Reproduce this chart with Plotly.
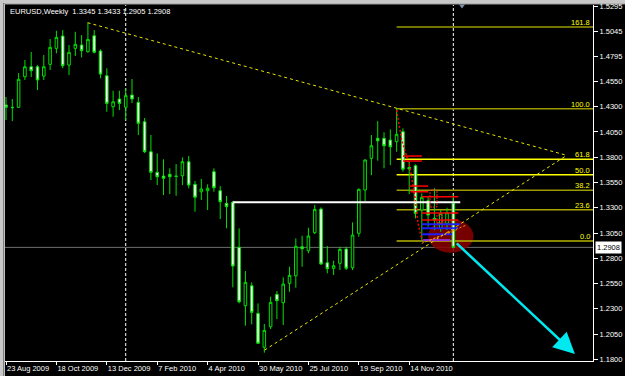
import plotly.graph_objects as go
import pandas as pd

# ---------------- data ----------------
week_start = "2009-08-23"
opens = [1.4316, 1.4293, 1.4293, 1.4595, 1.4694, 1.4694, 1.4602, 1.4718, 1.4876, 1.4998,
         1.4711, 1.4876, 1.4909, 1.4843, 1.5001, 1.4850, 1.4605, 1.4299, 1.4375, 1.4293,
         1.4414, 1.4342, 1.4150, 1.3854, 1.3650, 1.3613, 1.3630, 1.3613, 1.3616, 1.3755,
         1.3531, 1.3458, 1.3468, 1.3656, 1.3468, 1.3343, 1.3353, 1.2908, 1.2331, 1.2528,
         1.2255, 1.1919, 1.2123, 1.2443, 1.2360, 1.2552, 1.2627, 1.2914, 1.2875, 1.3053,
         1.3287, 1.2756, 1.2700, 1.2750, 1.2891, 1.2706, 1.3047, 1.3475, 1.3788, 1.3986,
         1.3986, 1.3969, 1.3953, 1.4052, 1.3699, 1.3715, 1.3277, 1.3369, 1.3195, 1.3096,
         1.3145, 1.3345]
highs = [1.4395, 1.4375, 1.4632, 1.4761, 1.4840, 1.4711, 1.4810, 1.4968, 1.5050, 1.5057,
         1.4909, 1.5040, 1.5008, 1.5130, 1.5057, 1.4866, 1.4679, 1.4457, 1.4457, 1.4481,
         1.4573, 1.4395, 1.4187, 1.4019, 1.3838, 1.3779, 1.3690, 1.3732, 1.3798, 1.3811,
         1.3564, 1.3584, 1.3531, 1.3690, 1.3514, 1.3416, 1.3366, 1.3096, 1.2674, 1.2562,
         1.2354, 1.2150, 1.2420, 1.2476, 1.2611, 1.2716, 1.2997, 1.3023, 1.3102, 1.3327,
         1.3304, 1.2921, 1.2776, 1.2914, 1.2914, 1.3155, 1.3490, 1.3780, 1.4019, 1.4157,
         1.4046, 1.4075, 1.4280, 1.4085, 1.3755, 1.3729, 1.3442, 1.3409, 1.3492, 1.3277,
         1.3300, 1.3433]
lows = [1.4167, 1.4157, 1.4286, 1.4563, 1.4592, 1.4464, 1.4563, 1.4662, 1.4827, 1.4679,
        1.4612, 1.4800, 1.4787, 1.4833, 1.4827, 1.4580, 1.4249, 1.4200, 1.4266, 1.4167,
        1.4335, 1.4019, 1.3840, 1.3574, 1.3524, 1.3425, 1.3435, 1.3418, 1.3524, 1.3492,
        1.3260, 1.3376, 1.3277, 1.3458, 1.3188, 1.3096, 1.2513, 1.2354, 1.2133, 1.2147,
        1.1952, 1.1866, 1.2100, 1.2199, 1.2140, 1.2469, 1.2509, 1.2716, 1.2849, 1.3040,
        1.2733, 1.2651, 1.2634, 1.2684, 1.2684, 1.2684, 1.3013, 1.3366, 1.3623, 1.3765,
        1.3690, 1.3722, 1.3854, 1.3656, 1.3435, 1.3195, 1.2972, 1.3112, 1.3079, 1.3063,
        1.3080, 1.2905]
closes = [1.4293, 1.4290, 1.4570, 1.4694, 1.4655, 1.4563, 1.4694, 1.4886, 1.4985, 1.4704,
          1.4837, 1.4916, 1.4853, 1.4965, 1.4837, 1.4622, 1.4332, 1.4348, 1.4332, 1.4408,
          1.4375, 1.4135, 1.3854, 1.3650, 1.3606, 1.3591, 1.3606, 1.3610, 1.3755, 1.3524,
          1.3403, 1.3485, 1.3492, 1.3498, 1.3359, 1.3310, 1.2723, 1.2370, 1.2562, 1.2265,
          1.1959, 1.2087, 1.2364, 1.2380, 1.2545, 1.2631, 1.2918, 1.2894, 1.3020, 1.3284,
          1.2743, 1.2697, 1.2726, 1.2888, 1.2701, 1.3030, 1.3482, 1.3772, 1.3913, 1.3962,
          1.3913, 1.3903, 1.4026, 1.3680, 1.3683, 1.3244, 1.3403, 1.3228, 1.3178, 1.3244,
          1.3250, 1.2908]

date_tick_idx = [0, 8, 16, 24, 32, 40, 48, 56, 64]
date_tick_labels = ["23 Aug 2009", "18 Oct 2009", "13 Dec 2009", "7 Feb 2010", "4 Apr 2010",
                    "30 May 2010", "25 Jul 2010", "19 Sep 2010", "14 Nov 2010"]
price_ticks = [1.5295, 1.5045, 1.4795, 1.4550, 1.4300, 1.4050, 1.3800, 1.3550,
               1.3300, 1.3050, 1.2800, 1.2550, 1.2300, 1.2050, 1.1800]
price_tick_labels = ["%.4f" % p for p in price_ticks]

title_text = "EURUSD,Weekly  1.3345 1.3433 1.2905 1.2908"
bid_price = 1.2908
separator_idx = [19, 71]

fib_high, fib_low, fib_start_idx = 1.4280, 1.2972, 62
fib_levels = [161.8, 100.0, 61.8, 50.0, 38.2, 23.6, 0.0]
fib_colors = ["#9A9A00", "#9A9A00", "#FFFF00", "#FFFF00", "#9A9A00", "#A8A800", "#B4B400"]

upper_trend = [(12.95, 1.5130), (89.0, 1.3818)]
lower_trend = [(41.05, 1.1892), (89.0, 1.3818)]
white_level = [(36.0, 72.1, 1.3353)]
arrow_from = (71.3, 1.2961)
arrow_to = (90.3, 1.1853)
ellipse_box = (67.0, 74.2, 1.2855, 1.3185)

red_segments = [(63.0, 66.0, 1.3811), (63.0, 66.0, 1.3762), (64.0, 67.0, 1.3514),
                (64.2, 67.0, 1.3458), (66.0, 71.8, 1.3409), (66.0, 71.8, 1.3247),
                (66.0, 71.8, 1.3178)]
blue_segments = [(66.0, 72.1, 1.3136), (66.0, 71.8, 1.3096), (66.0, 70.8, 1.3037)]
purple_segments = [(66.2, 70.5, 1.2980)]
red_zigzag_x = [62.0, 62.8, 64.1, 64.9, 65.4, 66.0]
red_zigzag_y = [1.4266, 1.3969, 1.3705, 1.3409, 1.3148, 1.2980]
red_boxes = [(67.3, 68.4, 1.3307, 1.3475), (68.4, 69.2, 1.3149, 1.3228)]
orange_lines = [[(66.0, 1.2948), (71.5, 1.3080)], [(67.3, 1.2980), (73.1, 1.3129)]]

x_range_idx = (-0.16, 93.17)
y_range = (1.1784, 1.5305)

# ---------------- figure ----------------
t0 = pd.Timestamp(week_start)


def wk(n):
    return t0 + pd.Timedelta(days=7 * n)


dates = [wk(i) for i in range(len(opens))]
FONT = "Liberation Sans, Arial, sans-serif"
fig = go.Figure()

fig.add_trace(go.Candlestick(
    x=dates, open=opens, high=highs, low=lows, close=closes,
    increasing=dict(line=dict(color="#00E000", width=1), fillcolor="#000000"),
    decreasing=dict(line=dict(color="#00E000", width=1), fillcolor="#FFFFFF"),
    whiskerwidth=0, showlegend=False, hoverinfo="skip"))

shapes = []
shapes.append(dict(type="circle", xref="x", yref="y", x0=wk(ellipse_box[0]), x1=wk(ellipse_box[1]),
                   y0=ellipse_box[2], y1=ellipse_box[3], fillcolor="#8B0000", opacity=0.85,
                   line=dict(width=0), layer="below"))
shapes.append(dict(type="line", xref="paper", yref="y", x0=0, x1=1, y0=bid_price, y1=bid_price,
                   line=dict(color="#707070", width=1), layer="below"))
for s in separator_idx:
    shapes.append(dict(type="line", xref="x", yref="paper", x0=wk(s), x1=wk(s), y0=0, y1=1,
                       line=dict(color="#FFFFFF", width=1, dash="3px,2px"), layer="below"))
for lv, c in zip(fib_levels, fib_colors):
    p = fib_low + (fib_high - fib_low) * lv / 100.0
    shapes.append(dict(type="line", xref="x", yref="y", x0=wk(fib_start_idx), x1=wk(x_range_idx[1]),
                       y0=p, y1=p, line=dict(color=c, width=1.5), layer="below"))
for tl in (upper_trend, lower_trend):
    shapes.append(dict(type="line", xref="x", yref="y", x0=wk(tl[0][0]), y0=tl[0][1],
                       x1=wk(tl[1][0]), y1=tl[1][1],
                       line=dict(color="#E6E600", width=1, dash="3px,3px")))
for a, b, p in white_level:
    shapes.append(dict(type="line", xref="x", yref="y", x0=wk(a), x1=wk(b), y0=p, y1=p,
                       line=dict(color="#FFFFFF", width=2)))
for a, b, p in red_segments:
    shapes.append(dict(type="line", xref="x", yref="y", x0=wk(a), x1=wk(b), y0=p, y1=p,
                       line=dict(color="#FF0000", width=1.5)))
for a, b, p in blue_segments:
    shapes.append(dict(type="line", xref="x", yref="y", x0=wk(a), x1=wk(b), y0=p, y1=p,
                       line=dict(color="#1E1EFF", width=2)))
for a, b, p in purple_segments:
    shapes.append(dict(type="line", xref="x", yref="y", x0=wk(a), x1=wk(b), y0=p, y1=p,
                       line=dict(color="#9A30E0", width=2)))
for a, b, p0, p1 in red_boxes:
    shapes.append(dict(type="rect", xref="x", yref="y", x0=wk(a), x1=wk(b), y0=p0, y1=p1,
                       line=dict(color="#FF2020", width=1, dash="2px,1px")))
for ol in orange_lines:
    shapes.append(dict(type="line", xref="x", yref="y", x0=wk(ol[0][0]), y0=ol[0][1],
                       x1=wk(ol[1][0]), y1=ol[1][1],
                       line=dict(color="#FF9900", width=1, dash="2px,2px")))
fig.add_trace(go.Scatter(x=[wk(v) for v in red_zigzag_x], y=red_zigzag_y, mode="lines",
                         line=dict(color="#FF0000", width=1.5, dash="2px,2px"),
                         showlegend=False, hoverinfo="skip"))

PW, PH, L, T = 588.0, 356.0, 5.0, 5.0


def px(x):
    return (x - L) / PW


def py(y):
    return 1 - (y - T) / PH


shapes.append(dict(type="rect", xref="paper", yref="paper", x0=px(0), x1=px(625), y0=py(0), y1=py(3),
                   fillcolor="#C8C8C8", line=dict(width=0)))
shapes.append(dict(type="line", xref="paper", yref="paper", x0=px(4.5), x1=px(625), y0=py(3.8), y1=py(3.8),
                   line=dict(color="#FFFFFF", width=1)))
shapes.append(dict(type="rect", xref="paper", yref="paper", x0=px(0), x1=px(3.5), y0=py(376), y1=py(0),
                   fillcolor="#C8C8C8", line=dict(width=0)))
shapes.append(dict(type="line", xref="paper", yref="paper", x0=px(4.3), x1=px(4.3), y0=py(376), y1=py(3.5),
                   line=dict(color="#F0F0F0", width=1)))
shapes.append(dict(type="path", xref="paper", yref="paper",
                   path="M %f %f L %f %f L %f %f Z" % (px(459), py(4.5), px(465), py(4.5), px(462), py(8.5)),
                   fillcolor="#7890A8", line=dict(width=0)))

annotations = []
annotations.append(dict(xref="paper", yref="paper", x=px(7.5), y=py(11), xanchor="left", yanchor="middle",
                        text=title_text, showarrow=False, font=dict(family=FONT, size=7.5, color="#FFFFFF")))
for lv in fib_levels:
    p = fib_low + (fib_high - fib_low) * lv / 100.0
    annotations.append(dict(xref="paper", yref="y", x=1, y=p, xanchor="right", yanchor="bottom",
                            xshift=-1, yshift=-2, text="%.1f" % lv, showarrow=False,
                            font=dict(family=FONT, size=7.5, color="#FFFF00")))
annotations.append(dict(xref="paper", yref="y", x=1, y=bid_price, xanchor="left", yanchor="middle",
                        xshift=2, text="%.4f" % bid_price, showarrow=False, bgcolor="#FFFFFF",
                        borderpad=1, font=dict(family=FONT, size=7.5, color="#000000")))
annotations.append(dict(xref="x", yref="y", axref="x", ayref="y", x=wk(arrow_to[0]), y=arrow_to[1],
                        ax=wk(arrow_from[0]), ay=arrow_from[1], showarrow=True, arrowhead=2,
                        arrowsize=1.7, arrowwidth=2.5, arrowcolor="#00E8F0", text=""))

fig.update_layout(
    width=625, height=376, margin=dict(l=5, r=32, t=5, b=15, autoexpand=False),
    paper_bgcolor="#000000", plot_bgcolor="#000000",
    boxgap=0.42, showlegend=False, shapes=shapes, annotations=annotations,
    xaxis=dict(range=[wk(x_range_idx[0]), wk(x_range_idx[1])], rangeslider=dict(visible=False),
               showgrid=False, zeroline=False, showline=True, linecolor="#FFFFFF", linewidth=1,
               ticks="outside", ticklen=3, tickcolor="#FFFFFF", tickangle=0, automargin=False,
               tickvals=[wk(i) for i in date_tick_idx], ticktext=date_tick_labels,
               ticklabelposition="outside right",
               tickfont=dict(family=FONT, size=7.5, color="#FFFFFF")),
    yaxis=dict(range=list(y_range), side="right", showgrid=False, zeroline=False,
               showline=True, linecolor="#FFFFFF", linewidth=1, automargin=False,
               ticks="outside", ticklen=4, tickcolor="#FFFFFF",
               tickvals=price_ticks, ticktext=price_tick_labels,
               tickfont=dict(family=FONT, size=7.5, color="#FFFFFF")),
)

fig.write_html("out.html")
